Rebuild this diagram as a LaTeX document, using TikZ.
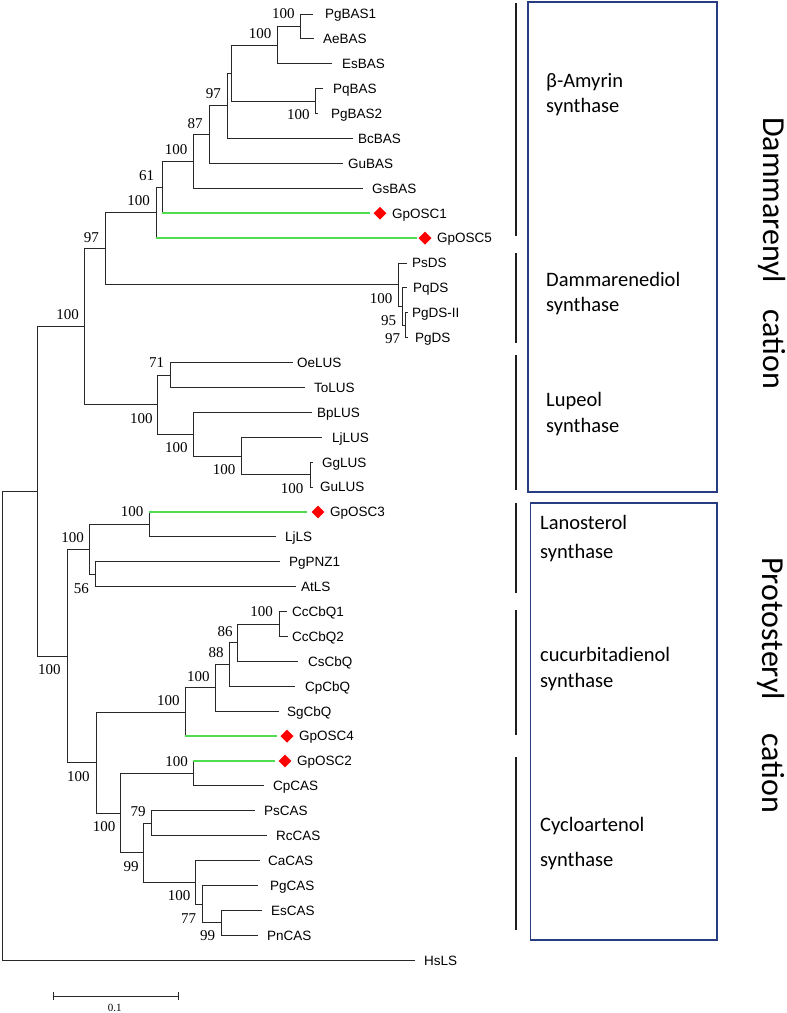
\documentclass[tikz,border=0pt]{standalone}
\usepackage{fontspec}
\usetikzlibrary{shapes.geometric}
\newfontfamily\lsans{Liberation Sans}
\newfontfamily\lserif{Liberation Serif}
\newfontfamily\carl{Carlito}
\definecolor{branch}{RGB}{40,40,40}
\definecolor{gpgreen}{RGB}{80,220,80}
\definecolor{boxblue}{RGB}{40,60,130}
\definecolor{markred}{RGB}{255,0,0}
\definecolor{barcol}{RGB}{30,30,30}
% leaf: name, text, tip x, label x, index
\newcommand\mkleaf[5]{%
  \coordinate (t#1) at (#3,{14+24.9*#5});
  \node[leaf] (#1) at (#4,{14+24.9*#5}) {#2};}
\newcommand\mkdiam[3]{\node[dmd] (#1) at (#2,{14+24.9*#3}) {};}
\newcommand\brn[2]{\draw[br] (#1) |- (#2);}
\newcommand\gbrn[2]{\draw[br] (#1) -- (#1 |- #2); \draw[gbr] (#1 |- #2) -- (#2);}
\begin{document}
\begin{tikzpicture}[x=1pt,y=-1pt,
  br/.style={draw=branch, line width=0.9pt},
  gbr/.style={draw=gpgreen, line width=1.6pt},
  leaf/.style={anchor=west, inner sep=0pt, font=\lsans\fontsize{13.5}{15}\selectfont, text height=9.7pt, text depth=0pt},
  bs/.style={inner sep=0pt, font=\lserif\fontsize{15}{17}\selectfont},
  dmd/.style={diamond, fill=markred, inner sep=0pt, minimum size=13pt},
  grpbar/.style={draw=barcol, line width=1.4pt},
  grpbox/.style={draw=boxblue, line width=1.3pt},
  boxtxt/.style={anchor=base west, inner sep=0pt, font=\carl\fontsize{20.5}{24}\selectfont},
  bigtxt/.style={anchor=base, inner sep=0pt, rotate=-90, font=\carl\fontsize{32}{36}\selectfont}
]
\useasboundingbox (0,0) rectangle (787,1013);
% ---------- leaves ----------
\mkleaf{PgBAS1}{PgBAS1}{313}{325}{0}
\mkleaf{AeBAS}{AeBAS}{314}{323}{1}
\mkleaf{EsBAS}{EsBAS}{332}{342}{2}
\mkleaf{PqBAS}{PqBAS}{323}{333}{3}
\mkleaf{PgBASb}{PgBAS2}{318}{331}{4}
\mkleaf{BcBAS}{BcBAS}{353}{358}{5}
\mkleaf{GuBAS}{GuBAS}{343}{348}{6}
\mkleaf{GsBAS}{GsBAS}{363}{372}{7}
\mkleaf{GpOSCa}{GpOSC1}{370}{392}{8}
\mkleaf{GpOSCe}{GpOSC5}{417}{437}{9}
\mkleaf{PsDS}{PsDS}{407}{412}{10}
\mkleaf{PqDS}{PqDS}{407}{413}{11}
\mkleaf{PgDSII}{PgDS-II}{408}{412}{12}
\mkleaf{PgDS}{PgDS}{408}{415}{13}
\mkleaf{OeLUS}{OeLUS}{293}{297}{14}
\mkleaf{ToLUS}{ToLUS}{305}{314}{15}
\mkleaf{BpLUS}{BpLUS}{312}{317}{16}
\mkleaf{LjLUS}{LjLUS}{322}{332}{17}
\mkleaf{GgLUS}{GgLUS}{313}{322}{18}
\mkleaf{GuLUS}{GuLUS}{313}{320}{19}
\mkleaf{GpOSCc}{GpOSC3}{307}{330}{20}
\mkleaf{LjLS}{LjLS}{276}{285}{21}
\mkleaf{PgPNZ}{PgPNZ1}{280}{289}{22}
\mkleaf{AtLS}{AtLS}{296}{301}{23}
\mkleaf{CcCbQa}{CcCbQ1}{287}{292}{24}
\mkleaf{CcCbQb}{CcCbQ2}{288}{292}{25}
\mkleaf{CsCbQ}{CsCbQ}{298}{308}{26}
\mkleaf{CpCbQ}{CpCbQ}{295}{305}{27}
\mkleaf{SgCbQ}{SgCbQ}{279}{287}{28}
\mkleaf{GpOSCd}{GpOSC4}{277}{299}{29}
\mkleaf{GpOSCb}{GpOSC2}{275}{297}{30}
\mkleaf{CpCAS}{CpCAS}{264}{273}{31}
\mkleaf{PsCAS}{PsCAS}{255}{264}{32}
\mkleaf{RcCAS}{RcCAS}{267}{276}{33}
\mkleaf{CaCAS}{CaCAS}{260}{268}{34}
\mkleaf{PgCAS}{PgCAS}{258}{270}{35}
\mkleaf{EsCAS}{EsCAS}{262}{271}{36}
\mkleaf{PnCAS}{PnCAS}{258}{267}{37}
\mkleaf{HsLS}{HsLS}{415}{424}{38}
% diamonds
\mkdiam{dA}{380}{8}
\mkdiam{dE}{425}{9}
\mkdiam{dC}{318}{20}
\mkdiam{dD}{287}{29}
\mkdiam{dB}{285}{30}
% ---------- internal nodes ----------
\coordinate (n1) at (300,26.45);
\coordinate (n2) at (277,45.125);
\coordinate (n3) at (315,101.15);
\coordinate (n4) at (231,73.14);
\coordinate (n5) at (227,105.82);
\coordinate (n6) at (209,134.61);
\coordinate (n7) at (193,161.46);
\coordinate (n8) at (162,187.33);
\coordinate (n9) at (156,212.71);
\coordinate (d1) at (405,325.25);
\coordinate (d2) at (402,306.58);
\coordinate (d3) at (398,284.79);
\coordinate (n10) at (105,248.75);
\coordinate (l1) at (170,375.05);
\coordinate (l2) at (310,474.65);
\coordinate (l3) at (241,455.98);
\coordinate (l4) at (193,434.19);
\coordinate (l5) at (157,404.62);
\coordinate (n11) at (84,326.69);
\coordinate (p1) at (149,524.45);
\coordinate (p2) at (95,574.25);
\coordinate (p3) at (89,549.35);
\coordinate (c1) at (279,624.05);
\coordinate (c2) at (237,642.73);
\coordinate (c3) at (229,664.51);
\coordinate (c4) at (215,687.86);
\coordinate (c5) at (185,711.98);
\coordinate (a1) at (193,773.45);
\coordinate (a2) at (151,823.25);
\coordinate (a3) at (221,922.85);
\coordinate (a4) at (202,904.18);
\coordinate (a5) at (195,882.39);
\coordinate (a6) at (143,852.82);
\coordinate (a7) at (120,813.14);
\coordinate (p4) at (96,762.56);
\coordinate (p5) at (67,655.96);
\coordinate (n12) at (37,491.33);
\coordinate (root) at (2,725.77);
% ---------- branches ----------
\brn{n1}{tPgBAS1} \brn{n1}{tAeBAS}
\brn{n2}{n1} \brn{n2}{tEsBAS}
\brn{n3}{tPqBAS} \brn{n3}{tPgBASb}
\brn{n4}{n2} \brn{n4}{n3}
\brn{n5}{n4} \brn{n5}{tBcBAS}
\brn{n6}{n5} \brn{n6}{tGuBAS}
\brn{n7}{n6} \brn{n7}{tGsBAS}
\brn{n8}{n7} \gbrn{n8}{tGpOSCa}
\brn{n9}{n8} \gbrn{n9}{tGpOSCe}
\brn{d1}{tPgDSII} \brn{d1}{tPgDS}
\brn{d2}{tPqDS} \brn{d2}{d1}
\brn{d3}{tPsDS} \brn{d3}{d2}
\brn{n10}{n9} \brn{n10}{d3}
\brn{l1}{tOeLUS} \brn{l1}{tToLUS}
\brn{l2}{tGgLUS} \brn{l2}{tGuLUS}
\brn{l3}{tLjLUS} \brn{l3}{l2}
\brn{l4}{tBpLUS} \brn{l4}{l3}
\brn{l5}{l1} \brn{l5}{l4}
\brn{n11}{n10} \brn{n11}{l5}
\gbrn{p1}{tGpOSCc} \brn{p1}{tLjLS}
\brn{p2}{tPgPNZ} \brn{p2}{tAtLS}
\brn{p3}{p1} \brn{p3}{p2}
\brn{c1}{tCcCbQa} \brn{c1}{tCcCbQb}
\brn{c2}{c1} \brn{c2}{tCsCbQ}
\brn{c3}{c2} \brn{c3}{tCpCbQ}
\brn{c4}{c3} \brn{c4}{tSgCbQ}
\brn{c5}{c4} \gbrn{c5}{tGpOSCd}
\gbrn{a1}{tGpOSCb} \brn{a1}{tCpCAS}
\brn{a2}{tPsCAS} \brn{a2}{tRcCAS}
\brn{a3}{tEsCAS} \brn{a3}{tPnCAS}
\brn{a4}{tPgCAS} \brn{a4}{a3}
\brn{a5}{tCaCAS} \brn{a5}{a4}
\brn{a6}{a2} \brn{a6}{a5}
\brn{a7}{a1} \brn{a7}{a6}
\brn{p4}{c5} \brn{p4}{a7}
\brn{p5}{p3} \brn{p5}{p4}
\brn{n12}{n11} \brn{n12}{p5}
\brn{root}{n12} \brn{root}{tHsLS}
% ---------- bootstrap values ----------
\node[bs] (b1) at (283.3,14) {100};
\node[bs] (b2) at (260,33.3) {100};
\node[bs] (b3) at (298.3,115) {100};
\node[bs] (b5) at (213.3,94) {97};
\node[bs] (b6) at (195,124) {87};
\node[bs] (b7) at (176,150) {100};
\node[bs] (b8) at (146.7,175.3) {61};
\node[bs] (b9) at (138.7,200.7) {100};
\node[bs] (b10) at (91.3,237.3) {97};
\node[bs] (b11) at (67.5,315) {100};
\node[bs] (bd2) at (381,298.7) {100};
\node[bs] (bd1) at (388.7,320.3) {95};
\node[bs] (bd0) at (392.7,339) {97};
\node[bs] (bl1) at (156.7,363) {71};
\node[bs] (bl5) at (141.3,418.7) {100};
\node[bs] (bl4) at (176.3,448) {100};
\node[bs] (bl3) at (224,470) {100};
\node[bs] (bl2) at (292,488.7) {100};
\node[bs] (bp1) at (132,512) {100};
\node[bs] (bp3) at (72.7,538) {100};
\node[bs] (bp2) at (81.3,588.3) {56};
\node[bs] (bc1) at (261.7,612) {100};
\node[bs] (bc2) at (225,631.7) {86};
\node[bs] (bc3) at (216,652.7) {88};
\node[bs] (bc4) at (198.3,676.3) {100};
\node[bs] (bc5) at (168.3,700.3) {100};
\node[bs] (ba1) at (176.7,761.7) {100};
\node[bs] (bp4) at (78.3,777) {100};
\node[bs] (bp5) at (49.3,670) {100};
\node[bs] (ba7) at (104,827) {100};
\node[bs] (ba2) at (138,811.7) {79};
\node[bs] (ba6) at (131,866.7) {99};
\node[bs] (ba5) at (179,895.7) {100};
\node[bs] (ba4) at (188.7,918.3) {77};
\node[bs] (ba3) at (207.7,935.3) {99};
% ---------- scale bar ----------
\coordinate (sbL) at (53,996);
\coordinate (sbR) at (178,996);
\draw[br] (sbL) -- (sbR);
\draw[br] ([yshift=-4pt]sbL) -- ([yshift=4pt]sbL);
\draw[br] ([yshift=-4pt]sbR) -- ([yshift=4pt]sbR);
\node[inner sep=0pt, font=\lserif\fontsize{11}{13}\selectfont] (sbt) at (114.7,1008.3) {0.1};
% ---------- group bars ----------
\draw[grpbar] (516,3) -- (516,236);
\draw[grpbar] (516,253) -- (516,343);
\draw[grpbar] (516,355) -- (516,490);
\draw[grpbar] (516,503) -- (516,593);
\draw[grpbar] (516,610) -- (516,735);
\draw[grpbar] (516,757) -- (516,930);
% ---------- boxes ----------
\draw[grpbox] (528,2) rectangle (717,492);
\draw[grpbox] (530.5,503) rectangle (717,940);
\node[boxtxt] (g1a) at (546,87.3) {β-Amyrin};
\node[boxtxt] (g1b) at (546,112.3) {synthase};
\node[boxtxt] (g2a) at (546,286.7) {Dammarenediol};
\node[boxtxt] (g2b) at (546,311.7) {synthase};
\node[boxtxt] (g3a) at (546,406.7) {Lupeol};
\node[boxtxt] (g3b) at (546,432.3) {synthase};
\node[boxtxt] (g4a) at (540,529.3) {Lanosterol};
\node[boxtxt] (g4b) at (540,558.3) {synthase};
\node[boxtxt] (g5a) at (540,661.7) {cucurbitadienol};
\node[boxtxt] (g5b) at (540,687.3) {synthase};
\node[boxtxt] (g6a) at (540,831.7) {Cycloartenol};
\node[boxtxt] (g6b) at (540,866.7) {synthase};
% ---------- big labels ----------
\node[bigtxt] (dam) at (763.3,253) {Dammarenyl\hspace{26pt}cation};
\node[bigtxt] (pro) at (762,685) {Protosteryl\hspace{33pt}cation};
\end{tikzpicture}
\end{document}
